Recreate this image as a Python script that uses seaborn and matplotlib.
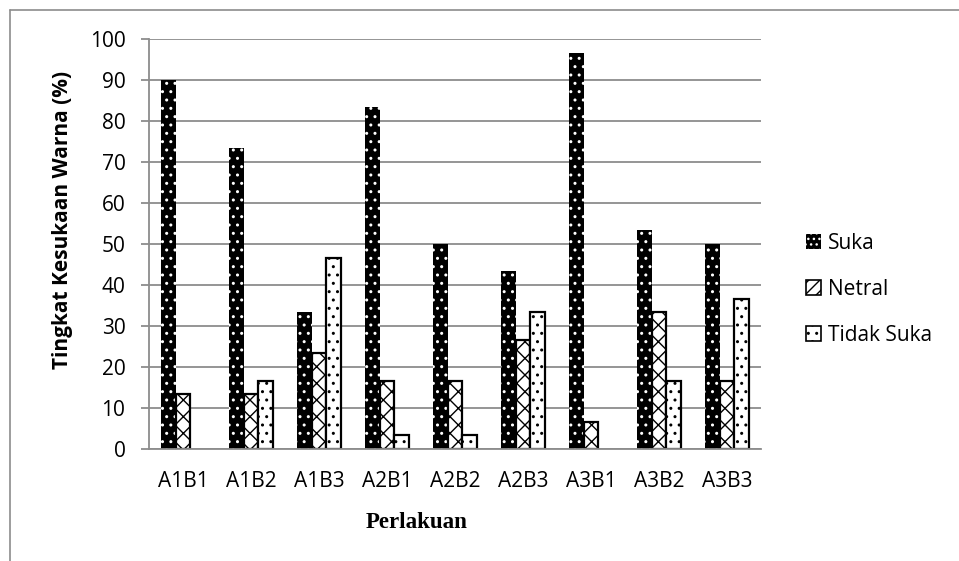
import matplotlib
matplotlib.use("Agg")
import matplotlib.pyplot as plt
import seaborn as sns
import pandas as pd
from matplotlib.lines import Line2D
from matplotlib.patches import Patch

categories = ["A1B1", "A1B2", "A1B3", "A2B1", "A2B2", "A2B3", "A3B1", "A3B2", "A3B3"]
suka = [90.0, 73.3, 33.3, 83.3, 50.0, 43.3, 96.7, 53.3, 50.0]
netral = [13.3, 13.3, 23.3, 16.7, 16.7, 26.7, 6.7, 33.3, 16.7]
tidak_suka = [0.0, 16.7, 46.7, 3.3, 3.3, 33.3, 0.0, 16.7, 36.7]
series_names = ["Suka", "Netral", "Tidak Suka"]
y_ticks = [0, 10, 20, 30, 40, 50, 60, 70, 80, 90, 100]

df = pd.DataFrame({
    "Perlakuan": categories * 3,
    "Nilai": suka + netral + tidak_suka,
    "Respon": [s for s in series_names for _ in categories],
})

sns.set_theme(style="white")
plt.rcParams["font.family"] = ["Open Sans", "DejaVu Sans"]
plt.rcParams["hatch.linewidth"] = 1.0
plt.rcParams["text.color"] = "black"
plt.rcParams["xtick.labelcolor"] = "black"
plt.rcParams["ytick.labelcolor"] = "black"

W, H = 959, 561
fig = plt.figure(figsize=(W / 100, H / 100), dpi=100)
ax = fig.add_axes([149 / W, 1 - 449 / H, (761 - 149) / W, (449 - 39) / H])

sns.barplot(data=df, x="Perlakuan", y="Nilai", hue="Respon", order=categories,
            hue_order=series_names, width=0.66, ax=ax, legend=False,
            errorbar=None, saturation=1)

styles = [
    dict(facecolor="black", edgecolor="white", hatch="..", linewidth=0),
    dict(facecolor="white", edgecolor="black", hatch="xx", linewidth=1.6),
    dict(facecolor="white", edgecolor="black", hatch="..", linewidth=1.6),
]
for cont, st in zip(ax.containers, styles):
    for bar in cont:
        bar.set_facecolor(st["facecolor"])
        bar.set_edgecolor(st["edgecolor"])
        bar.set_hatch(st["hatch"])
        bar.set_linewidth(st["linewidth"])
        if bar.get_height() == 0:
            bar.set_visible(False)

ax.set_ylim(0, 100)
ax.set_xlim(-0.5, len(categories) - 0.5)
ax.set_yticks(y_ticks)
ax.yaxis.grid(True, color="#8c8c8c", linewidth=1.3)
ax.set_axisbelow(True)
for side in ["top", "right"]:
    ax.spines[side].set_visible(False)
for side in ["left", "bottom"]:
    ax.spines[side].set_color("#8c8c8c")
    ax.spines[side].set_linewidth(1.3)
ax.tick_params(axis="y", length=6, width=1.3, color="#8c8c8c", labelsize=15, labelcolor="black",
               pad=11, left=True)
ax.tick_params(axis="x", length=0, labelsize=15, labelcolor="black", pad=16)
ax.set_xlabel("")
ax.set_ylabel("")

fig.text(63 / W, 1 - 220 / H, "Tingkat Kesukaan Warna (%)", rotation=90,
         ha="center", va="center", fontsize=15, fontweight="bold", color="black")
fig.text(417 / W, 1 - 522 / H, "Perlakuan", ha="center", va="center", color="black",
         fontsize=16.5, fontweight="bold", family=["Liberation Serif", "DejaVu Serif"])

handles = [
    Patch(facecolor="black", edgecolor="white", hatch="...", linewidth=0),
    Patch(facecolor="white", edgecolor="black", hatch="///", linewidth=1.2),
    Patch(facecolor="white", edgecolor="black", hatch="..", linewidth=1.2),
]
leg = fig.legend(handles, series_names, loc="upper left", bbox_to_anchor=(806 / W, 1 - 233 / H),
                 frameon=False, fontsize=15, handlelength=0.72, handleheight=0.72,
                 handletextpad=0.35, labelspacing=1.2, borderaxespad=0, borderpad=0)
for t in leg.get_texts():
    t.set_color("black")

# outer frame of the figure (left and top edges)
fig.add_artist(Line2D([10 / W, 10 / W], [0, 1 - 10 / H], color="#8c8c8c", linewidth=1.2))
fig.add_artist(Line2D([10 / W, 1], [1 - 10 / H, 1 - 10 / H], color="#8c8c8c", linewidth=1.2))

fig.savefig("out.png", dpi=100)
